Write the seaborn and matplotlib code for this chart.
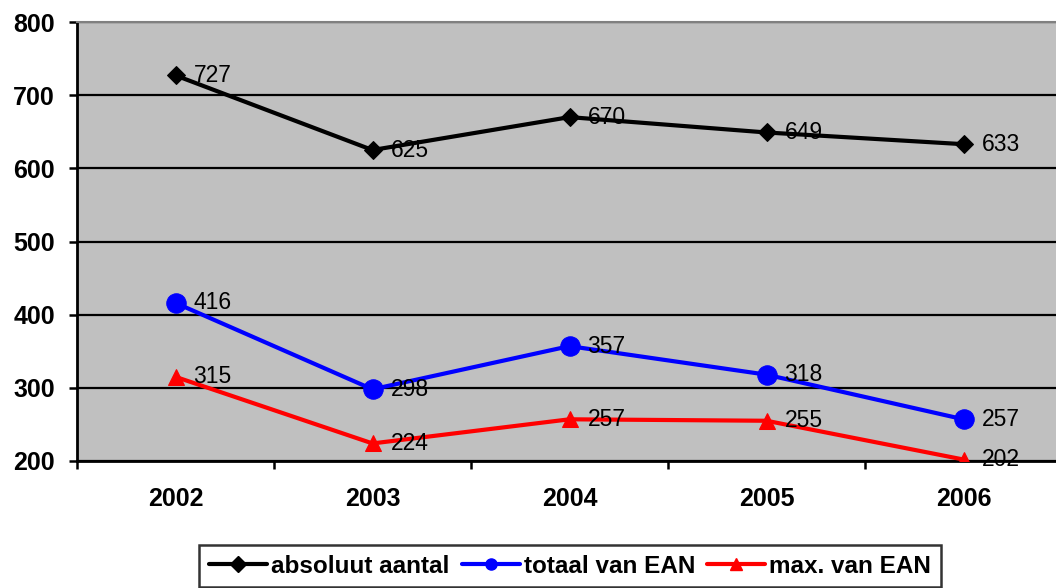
import pandas as pd
import matplotlib
matplotlib.use("Agg")
import matplotlib.pyplot as plt
from matplotlib.lines import Line2D
import seaborn as sns

years = ["2002", "2003", "2004", "2005", "2006"]
absoluut_aantal = [727, 625, 670, 649, 633]
totaal_van_ean = [416, 298, 357, 318, 257]
max_van_ean = [315, 224, 257, 255, 202]
series_names = ["absoluut aantal", "totaal van EAN", "max. van EAN"]
y_ticks = [200, 300, 400, 500, 600, 700, 800]

sns.set_style("white")
plt.rcParams["font.family"] = ["Liberation Sans", "DejaVu Sans"]
plt.rcParams["text.color"] = "black"
plt.rcParams["xtick.color"] = "black"
plt.rcParams["ytick.color"] = "black"

rows = []
for name, vals in zip(series_names, [absoluut_aantal, totaal_van_ean, max_van_ean]):
    for i, v in enumerate(vals):
        rows.append({"x": i, "year": years[i], "serie": name, "value": v})
df = pd.DataFrame(rows)

colors = {"absoluut aantal": "#000000", "totaal van EAN": "#0000FF", "max. van EAN": "#FF0000"}
markers = {"absoluut aantal": "D", "totaal van EAN": "o", "max. van EAN": "^"}
msizes = {"absoluut aantal": 9, "totaal van EAN": 14, "max. van EAN": 11}

fig = plt.figure(figsize=(10.56, 5.88), dpi=100)
ax = fig.add_axes([77 / 1056, 1 - 461 / 588, 985 / 1056, 439 / 588])
ax.set_facecolor("#C0C0C0")

for name in series_names:
    sub = df[df["serie"] == name]
    sns.lineplot(data=sub, x="x", y="value", ax=ax, color=colors[name], lw=3,
                 marker=markers[name], markersize=msizes[name],
                 markeredgecolor=colors[name], legend=False, zorder=3)
    for xv, yv in zip(sub["x"], sub["value"]):
        ax.annotate(str(yv), (xv, yv), xytext=(13, 0), textcoords="offset points",
                    va="center", ha="left", fontsize=16.5, color="black", zorder=4)

ax.set_xlim(-0.5, 4.5)
ax.set_ylim(200, 800)
ax.set_yticks(y_ticks)
ax.set_yticklabels([str(t) for t in y_ticks], fontsize=18, fontweight="bold")
ax.set_xticks([i - 0.5 for i in range(6)])
ax.set_xticklabels([])
ax.set_xticks(range(5), minor=True)
ax.set_xticklabels(years, minor=True, fontsize=18, fontweight="bold")
ax.tick_params(axis="x", which="minor", bottom=False, length=0, pad=19)
ax.tick_params(axis="x", which="major", bottom=True, length=6, width=1.8, direction="out", color="black")
ax.tick_params(axis="y", left=True, length=6, width=1.8, direction="out", color="black", pad=10)
ax.yaxis.grid(True, color="black", lw=1.6)
ax.xaxis.grid(False)
ax.set_axisbelow(True)
ax.set_xlabel("")
ax.set_ylabel("")
ax.spines["right"].set_visible(False)
ax.spines["left"].set_color("black")
ax.spines["left"].set_linewidth(2)
ax.spines["bottom"].set_color("black")
ax.spines["bottom"].set_linewidth(2)
ax.spines["top"].set_color("#808080")
ax.spines["top"].set_linewidth(1.5)

# legend proxies with smaller markers
handles = [Line2D([], [], color=colors[n], lw=3, marker=markers[n], markersize=8,
                  markeredgecolor=colors[n]) for n in series_names]
leg = fig.legend(handles, series_names, loc="upper center", bbox_to_anchor=(570 / 1056, 1 - 545 / 588),
                 ncol=3, frameon=True, fancybox=False, shadow=False, handlelength=2.4,
                 handletextpad=0.15, columnspacing=0.5, borderpad=0.4, borderaxespad=0,
                 prop={"size": 17.5, "weight": "bold"})
leg.get_frame().set_edgecolor("black")
leg.get_frame().set_linewidth(1.8)

fig.savefig("out.png", dpi=100)
